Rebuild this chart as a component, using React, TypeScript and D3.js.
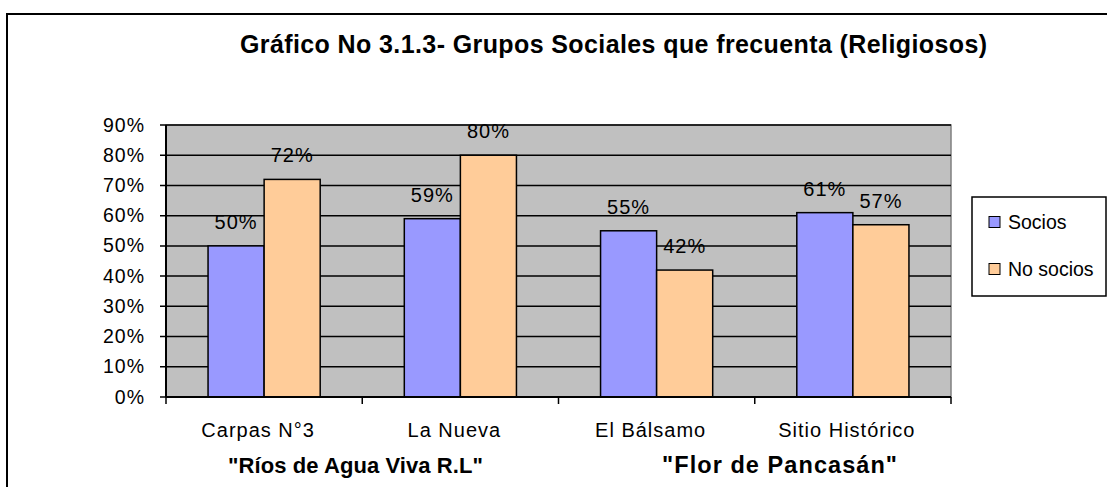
import React from "react";
import * as d3 from "d3";

const categories = ["Carpas N°3", "La Nueva", "El Bálsamo", "Sitio Histórico"];
const seriesNames = ["Socios", "No socios"];
const socios = [0.5, 0.59, 0.55, 0.61];
const noSocios = [0.72, 0.8, 0.42, 0.57];
const yTicks = [0, 0.1, 0.2, 0.3, 0.4, 0.5, 0.6, 0.7, 0.8, 0.9];
const groupLabels = ['"Ríos de Agua Viva R.L"', '"Flor de Pancasán"'];

const colors = ["#9999FF", "#FFCC99"];
const font = "'Liberation Sans', Arial, sans-serif";

const W = 1107, H = 487;
const plot = { left: 166, right: 951, top: 125, bottom: 397 };

const App = () => {
  const x0 = d3.scaleBand<string>().domain(categories).range([plot.left, plot.right]);
  const x1 = d3.scaleBand<string>().domain(seriesNames).range([0, x0.bandwidth()]).paddingOuter(0.75);
  const y = d3.scaleLinear().domain([0, 0.9]).range([plot.bottom, plot.top]);
  const pct = d3.format(".0%");
  const values = [socios, noSocios];

  return (
    <svg width={W} height={H} style={{ position: "absolute", left: 0, top: 0, fontFamily: font }}>
      <rect x={0} y={0} width={W} height={H} fill="#fff" />
      <rect x={7} y={14} width={1300} height={700} fill="none" stroke="#000" strokeWidth={2} />

      <text x={240} y={53} fontWeight="bold" fontSize={25} textLength={747} lengthAdjust="spacing">
        Gráfico No 3.1.3- Grupos Sociales que frecuenta (Religiosos)
      </text>

      {/* plot area */}
      <rect x={plot.left} y={plot.top} width={plot.right - plot.left} height={plot.bottom - plot.top} fill="#C0C0C0" stroke="#808080" strokeWidth={1.5} />
      {yTicks.map(t => (
        <g key={t}>
          <line x1={plot.left - 6} x2={plot.right} y1={y(t)} y2={y(t)} stroke="#000" strokeWidth={1.5} />
          <text x={145} y={y(t) + 6.5} textAnchor="end" fontSize={19.5} letterSpacing={1}>{pct(t)}</text>
        </g>
      ))}

      {categories.map((c, i) => (
        <g key={c} transform={`translate(${x0(c)},0)`}>
          {seriesNames.map((s, j) => (
            <g key={s}>
              <rect x={x1(s)} y={y(values[j][i])} width={x1.bandwidth()} height={plot.bottom - y(values[j][i])}
                fill={colors[j]} stroke="#000" strokeWidth={1.5} />
              <text x={(x1(s) as number) + x1.bandwidth() / 2} y={y(values[j][i]) - 17} textAnchor="middle"
                fontSize={20} letterSpacing={1}>{pct(values[j][i])}</text>
            </g>
          ))}
          <text x={x0.bandwidth() / 2 - 6} y={437} textAnchor="middle" fontSize={20} letterSpacing={1}>{c}</text>
        </g>
      ))}

      {/* axes */}
      <line x1={plot.left} x2={plot.left} y1={plot.top} y2={plot.bottom} stroke="#000" strokeWidth={2} />
      <line x1={plot.left} x2={plot.right} y1={plot.bottom} y2={plot.bottom} stroke="#000" strokeWidth={2} />
      {categories.map(c => (
        <line key={c} x1={x0(c)} x2={x0(c)} y1={plot.bottom} y2={plot.bottom + 7} stroke="#000" strokeWidth={1.5} />
      ))}
      <line x1={plot.right} x2={plot.right} y1={plot.bottom} y2={plot.bottom + 7} stroke="#000" strokeWidth={1.5} />

      <text x={228} y={473} fontWeight="bold" fontSize={22} textLength={255} lengthAdjust="spacing">{groupLabels[0]}</text>
      <text x={662} y={473} fontWeight="bold" fontSize={23.5} textLength={235} lengthAdjust="spacing">{groupLabels[1]}</text>

      {/* legend */}
      <rect x={972} y={197} width={134} height={99} fill="#fff" stroke="#000" strokeWidth={1.5} />
      {seriesNames.map((s, j) => (
        <g key={s} transform={`translate(989,${222 + j * 47})`}>
          <rect x={0} y={-5.5} width={11} height={11} fill={colors[j]} stroke="#000" strokeWidth={1} />
          <text x={19} y={7} fontSize={19.5}>{s}</text>
        </g>
      ))}
    </svg>
  );
};

export default App;
